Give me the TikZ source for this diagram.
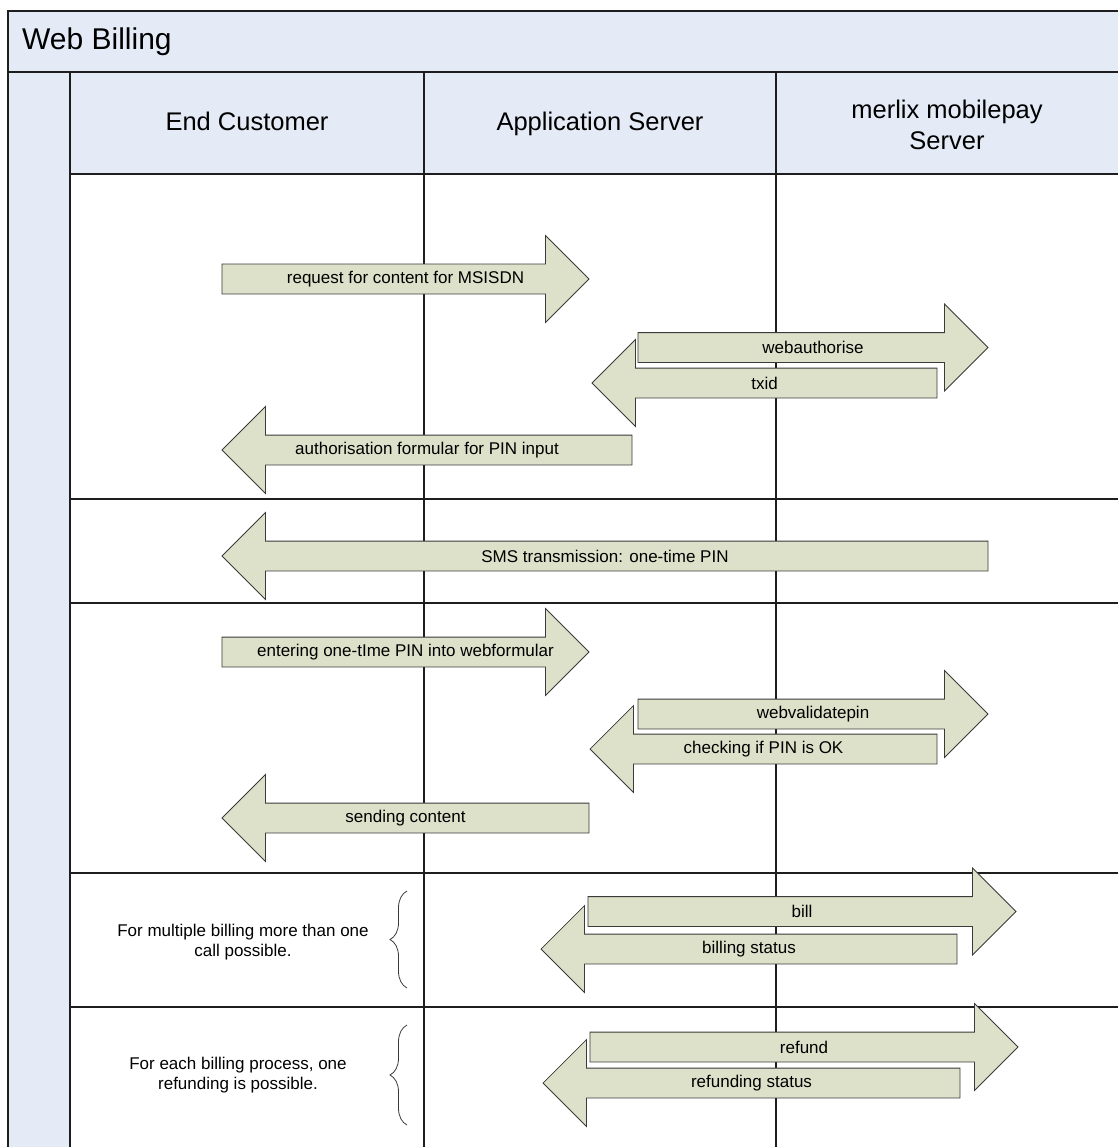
\documentclass[tikz,border=0pt]{standalone}
\usepackage{fontspec}
\setmainfont{Liberation Sans}
\usetikzlibrary{shapes.arrows, decorations.pathreplacing, positioning}
\definecolor{lanefill}{HTML}{E4EBF6}
\definecolor{msgfill}{HTML}{DDE1CA}
\definecolor{msgline}{HTML}{3A3A3A}
\definecolor{gridline}{HTML}{1E1E1E}
\tikzset{
  laneline/.style={draw=gridline, line width=1.3pt},
  lanehead/.style={align=center, inner sep=0pt, font=\fontsize{25.5}{31}\selectfont},
  msgtext/.style={inner sep=0pt, font=\fontsize{17}{20}\selectfont},
  msgbase/.style={
    single arrow, single arrow head extend=28.5pt, single arrow tip angle=90,
    minimum width=86pt, text height=12pt, text depth=4pt,
    inner ysep=6.5pt, inner xsep=2pt,
    draw=msgline, line width=0.8pt, fill=msgfill,
  },
  msgright/.style={msgbase, label={[msgtext, xshift=7.5pt]center:{#1}}},
  msgleft/.style={msgbase, shape border rotate=180, label={[msgtext, xshift=-7.5pt]center:{#1}}},
  note/.style={align=center, font=\fontsize{17}{20}\selectfont},
  notebrace/.style={draw=msgline, line width=0.8pt, decorate, decoration={brace, amplitude=17pt}},
}
\begin{document}
\begin{tikzpicture}[x=1pt,y=-1pt]
  \useasboundingbox (0,0) rectangle (1118,1147);
  % pool and lanes
  \fill[lanefill] (8,11) rectangle (1118,72);
  \fill[lanefill] (8,72) rectangle (70,1147);
  \fill[lanefill] (70,72) rectangle (1118,174);
  \draw[laneline] (8,1147) -- (8,11) -- (1118,11);
  \draw[laneline] (8,72) -- (1118,72);
  \draw[laneline] (70,72) -- (70,1147);
  \foreach \y in {174,499,603,873,1007}
    \draw[laneline] (70,\y) -- (1118,\y);
  \draw[laneline] (424,72) -- (424,1147);
  \draw[laneline] (776,72) -- (776,1147);
  \node[anchor=base west, inner sep=0pt, font=\fontsize{30}{36}\selectfont] (title) at (22,50) {Web Billing};
  \node[lanehead, anchor=base] (customer) at (247,131) {End Customer};
  \node[lanehead, anchor=base] (appserver) at (600,131) {Application Server};
  \node[lanehead] (merlix) at (947,125) {merlix mobilepay\\Server};
  % authorisation
  \node[msgright={request for content for MSISDN}, minimum height=367pt] (request) at (398,279) {};
  \node[msgright={webauthorise}, minimum height=350pt] (webauth) at (805.5,347.5) {};
  \node[msgleft={txid}, minimum height=345pt] (txid) at (772,383) {};
  \node[msgleft={authorisation formular for PIN input}, minimum height=410pt] (authform) at (434.5,450) {};
  % pin
  \node[msgleft={SMS transmission: one-time PIN}, minimum height=766pt] (sms) at (612.5,556) {};
  % validation
  \node[msgright={entering one-tIme PIN into webformular}, minimum height=367pt] (enterpin) at (398,652) {};
  \node[msgright={webvalidatepin}, minimum height=350pt] (validate) at (805.5,714) {};
  \node[msgleft={checking if PIN is OK}, minimum height=347pt] (pinok) at (771,749) {};
  \node[msgleft={sending content}, minimum height=367pt] (content) at (413,818) {};
  % billing
  \node[note] (multinote) at (243,942) {For multiple billing more than one\\call possible.};
  \draw[notebrace] (407,988) -- (407,891);
  \node[msgright={bill}, minimum height=428pt] (bill) at (794.5,911.5) {};
  \node[msgleft={billing status}, minimum height=416pt] (billstatus) at (756.5,949) {};
  % refund
  \node[note] (refundnote) at (238,1075) {For each billing process, one\\refunding is possible.};
  \draw[notebrace] (407,1125) -- (407,1025);
  \node[msgright={refund}, minimum height=428pt] (refund) at (796.5,1047) {};
  \node[msgleft={refunding status}, minimum height=417pt] (refundstatus) at (759,1083) {};
\end{tikzpicture}
\end{document}
